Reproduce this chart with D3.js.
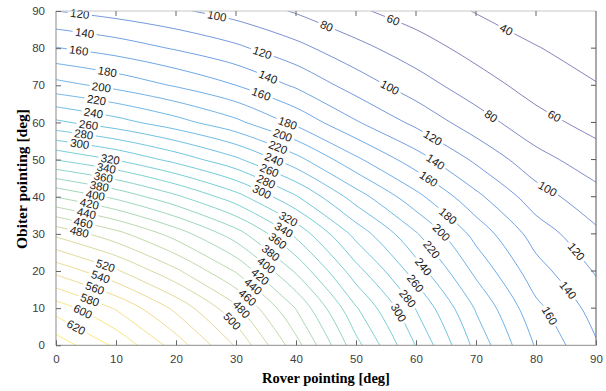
<!DOCTYPE html>
<html>
<head>
<meta charset="utf-8">
<script src="https://cdn.jsdelivr.net/npm/d3@7"></script>
<style>
  body { margin: 0; background: #fff; }
  text { font-family: "Liberation Sans", Arial, sans-serif; }
</style>
</head>
<body>
<svg id="chart" width="606" height="391"></svg>
<script>
// grid sample positions (deg)
const roverDeg = [0, 10, 20, 30, 40, 50, 60, 70, 80, 90];
const orbiterDeg = [0, 10, 20, 30, 40, 50, 60, 70, 80, 90];

// field, one row per orbiter angle (0 deg first)
const fieldRows = [
  [652, 616, 571, 518, 448, 367, 299, 234, 178, 142],
  [611, 578, 535, 485, 419, 342, 279, 218, 165, 132],
  [554, 523, 484, 438, 377, 308, 250, 195, 148, 118],
  [495, 467, 431, 389, 335, 273, 222, 173, 131, 104],
  [419, 395, 364, 328, 282, 230, 186, 145, 109, 87],
  [339, 319, 293, 264, 227, 184, 149, 116, 87, 69],
  [264, 248, 228, 205, 175, 142, 115, 89, 67, 53],
  [207, 194, 178, 160, 137, 111, 89, 69, 52, 41],
  [161, 151, 138, 124, 106, 86, 69, 53, 41, 31],
  [120, 112, 103, 92, 78, 63, 51, 39, 29, 23]
];

const levels = [40, 60, 80, 100, 120, 140, 160, 180, 200, 220, 240, 260, 280, 300,
  320, 340, 360, 380, 400, 420, 440, 460, 480, 500, 520, 540, 560, 580, 600, 620, 640];

const tickValues = [0, 10, 20, 30, 40, 50, 60, 70, 80, 90];

// where the inline labels sit (level, rover deg, orbiter deg) - layout only
const labelSpots = [
  [120, 3.9, 88.8], [140, 4.7, 82.9], [160, 3.7, 78.5], [180, 8.6, 73.3], [200, 7.6, 69.5],
  [220, 6.8, 65.9], [240, 6.2, 62.5], [260, 5.4, 59.4], [280, 4.6, 56.7], [300, 3.9, 54],
  [320, 9, 49.5], [340, 8.3, 47.2], [360, 7.8, 45], [380, 7.2, 42.6], [400, 6.5, 40.5],
  [420, 5.6, 37.8], [440, 5.1, 35.4], [460, 4.6, 33], [480, 3.9, 30.6], [520, 8.2, 21.4],
  [540, 7.3, 18], [560, 6.5, 15.2], [580, 5.7, 12.7], [600, 4.6, 9.3], [620, 3.7, 5.9],
  [100, 26.8, 88.6], [120, 34.4, 78.5], [140, 35.4, 72.4], [160, 34.3, 68.1],
  [180, 38.7, 60.3], [200, 37.8, 56.7], [220, 37.1, 53.5], [240, 36.5, 50.4],
  [260, 35.7, 47.3], [280, 35, 44.1], [300, 34.3, 41.4], [320, 38.7, 34.2],
  [340, 37.9, 31.1], [360, 37.1, 28.4], [380, 35.9, 25.2], [400, 35.1, 21.6],
  [420, 34, 18.3], [440, 32.6, 15.4], [460, 31.8, 12.7], [480, 30.7, 9.5], [500, 29.6, 6.8],
  [80, 45.1, 85.9], [60, 56.2, 87.7], [100, 55.9, 70.2], [40, 74.8, 84.1],
  [60, 82.9, 61.2], [80, 72.6, 62.1], [100, 81.8, 41.9], [120, 62.9, 56.2],
  [140, 63.4, 49.9], [160, 62.1, 45], [180, 65.7, 35.6], [200, 64.6, 31.1],
  [220, 62.9, 26.1], [240, 61.2, 21.2], [260, 59.8, 16.7], [280, 58.4, 12.2],
  [300, 56.8, 8.6], [120, 86.5, 24.8], [140, 84.8, 14], [160, 82.1, 7.7]
];

const parula = ['#352a87', '#0363e1', '#1485d4', '#06a7c6', '#38b99e',
  '#92bf73', '#d9ba56', '#fcce2e', '#f9fb0e'];

const svg = d3.select('#chart');
const x = d3.scaleLinear().domain([0, 90]).range([56, 596]);
const y = d3.scaleLinear().domain([0, 90]).range([345.3, 11]);
const colour = d3.scaleSequential(d3.interpolateRgbBasis(parula)).domain([60, 680]).clamp(true);

// grid index -> degrees (d3.contours puts sample i at i + 0.5)
const gx = d3.scaleLinear().domain([0.5, roverDeg.length - 0.5]).range(d3.extent(roverDeg));
const gy = d3.scaleLinear().domain([0.5, orbiterDeg.length - 0.5]).range(d3.extent(orbiterDeg));

const contours = d3.contours()
  .size([roverDeg.length, orbiterDeg.length])
  .thresholds(levels)(fieldRows.flat());

svg.append('clipPath').attr('id', 'plot')
  .append('rect').attr('x', x(0)).attr('y', y(90))
  .attr('width', x(90) - x(0)).attr('height', y(0) - y(90));

// keep only the part of a ring that lies inside the data area
function openLines(ring) {
  const eps = 1e-6;
  const inside = (p) => p[0] >= -eps && p[0] <= 90 + eps && p[1] >= -eps && p[1] <= 90 + eps;
  const pts = ring.slice(0, ring.length - 1).map(p => [gx(p[0]), gy(p[1])]);
  const start = pts.findIndex(p => !inside(p));
  if (start < 0) return [pts.concat([pts[0]])];
  const rot = pts.slice(start).concat(pts.slice(0, start));
  const lines = [];
  let cur = [];
  rot.forEach(p => {
    if (inside(p)) {
      const last = cur[cur.length - 1];
      if (!last || Math.hypot(p[0] - last[0], p[1] - last[1]) > 0.05) cur.push(p);
    } else {
      if (cur.length > 1) lines.push(cur);
      cur = [];
    }
  });
  if (cur.length > 1) lines.push(cur);
  return lines;
}

const line = d3.line()
  .x(d => x(d[0]))
  .y(d => y(d[1]))
  .curve(d3.curveCatmullRom.alpha(0.5));

const gLines = svg.append('g').attr('clip-path', 'url(#plot)');
const paths = [];
contours.forEach(c => {
  c.coordinates.forEach(poly => poly.forEach(ring => {
    openLines(ring).forEach(pts => {
      const node = gLines.append('path')
        .attr('d', line(pts))
        .attr('fill', 'none')
        .attr('stroke', colour(c.value))
        .attr('stroke-width', 0.7)
        .attr('stroke-opacity', 0.85)
        .node();
      paths.push({ level: c.value, node, gaps: [] });
    });
  }));
});

// inline labels, snapped to the nearest point of their contour
const gLabels = svg.append('g')
  .attr('font-size', 11.5)
  .attr('fill', '#1a1a1a');

labelSpots.forEach(([lev, dx, dy]) => {
  const px = x(dx), py = y(dy);
  let best = null;
  paths.filter(p => p.level === lev).forEach(p => {
    const L = p.node.getTotalLength();
    for (let s = 0; s <= L; s += 1) {
      const q = p.node.getPointAtLength(s);
      const d = (q.x - px) ** 2 + (q.y - py) ** 2;
      if (!best || d < best.d) best = { d, s, p, L };
    }
  });
  if (!best) return;
  const { p, s, L } = best;
  const a = p.node.getPointAtLength(Math.max(0, s - 6));
  const b = p.node.getPointAtLength(Math.min(L, s + 6));
  let ang = Math.atan2(b.y - a.y, b.x - a.x) * 180 / Math.PI;
  if (ang > 90) ang -= 180;
  if (ang < -90) ang += 180;
  const c = p.node.getPointAtLength(s);
  const t = gLabels.append('text')
    .attr('transform', `translate(${c.x},${c.y}) rotate(${ang})`)
    .attr('dy', '0.36em')
    .attr('text-anchor', 'middle')
    .text(lev);
  const w = t.node().getComputedTextLength();
  p.gaps.push([s - w / 2 - 2.5, s + w / 2 + 2.5]);
});

// cut the lines where labels sit
paths.forEach(p => {
  if (!p.gaps.length) return;
  const L = p.node.getTotalLength();
  const gaps = p.gaps
    .map(([a, b]) => [Math.max(0, a), Math.min(L, b)])
    .sort((u, v) => u[0] - v[0]);
  const arr = [];
  let pos = 0;
  gaps.forEach(([a, b]) => {
    const a2 = Math.max(a, pos);
    arr.push(a2 - pos, Math.max(0, b - a2));
    pos = Math.max(pos, b);
  });
  arr.push(L - pos + 1, L + 1);
  d3.select(p.node).attr('stroke-dasharray', arr.join(' '));
});

// axes box
const frame = svg.append('g').attr('fill', 'none').attr('stroke-width', 1);
frame.append('line').attr('x1', x(0)).attr('x2', x(90)).attr('y1', y(90)).attr('y2', y(90)).attr('stroke', '#c8c8c8');
frame.append('line').attr('x1', x(90)).attr('x2', x(90)).attr('y1', y(90)).attr('y2', y(0)).attr('stroke', '#555');
frame.append('line').attr('x1', x(0)).attr('x2', x(0)).attr('y1', y(90)).attr('y2', y(0)).attr('stroke', '#8c8c8c');
frame.append('line').attr('x1', x(0)).attr('x2', x(90)).attr('y1', y(0)).attr('y2', y(0)).attr('stroke', '#8c8c8c');

const tickLen = 5;
const xAxis = d3.axisBottom(x).tickValues(tickValues).tickSizeInner(-tickLen).tickSizeOuter(0).tickPadding(10);
const yAxis = d3.axisLeft(y).tickValues(tickValues).tickSizeInner(-tickLen).tickSizeOuter(0).tickPadding(11);

const gxAxis = svg.append('g').attr('transform', `translate(0,${y(0)})`).call(xAxis);
const gyAxis = svg.append('g').attr('transform', `translate(${x(0)},0)`).call(yAxis);
[gxAxis, gyAxis].forEach(g => {
  g.select('.domain').remove();
  g.selectAll('line').attr('stroke', '#666');
  g.selectAll('text').attr('font-size', 11.5).attr('fill', '#404040')
    .attr('font-family', '"Liberation Sans", Arial, sans-serif');
});

// mirrored ticks on top and right
svg.append('g').selectAll('line').data(tickValues.slice(1, -1)).join('line')
  .attr('x1', d => x(d)).attr('x2', d => x(d))
  .attr('y1', y(90)).attr('y2', y(90) + tickLen)
  .attr('stroke', '#666');
svg.append('g').selectAll('line').data(tickValues.slice(1, -1)).join('line')
  .attr('x1', x(90)).attr('x2', x(90) - tickLen)
  .attr('y1', d => y(d)).attr('y2', d => y(d))
  .attr('stroke', '#555');

// axis titles
svg.append('text')
  .attr('x', 326).attr('y', 383)
  .attr('text-anchor', 'middle')
  .style('font-family', '"Liberation Serif", "Times New Roman", serif')
  .style('font-weight', 'bold').style('font-size', '14.5px')
  .text('Rover pointing [deg]');

svg.append('text')
  .attr('transform', 'translate(27,179) rotate(-90)')
  .attr('text-anchor', 'middle')
  .style('font-family', '"Liberation Serif", "Times New Roman", serif')
  .style('font-weight', 'bold').style('font-size', '15.5px')
  .text('Obiter pointing [deg]');
</script>
</body>
</html>
